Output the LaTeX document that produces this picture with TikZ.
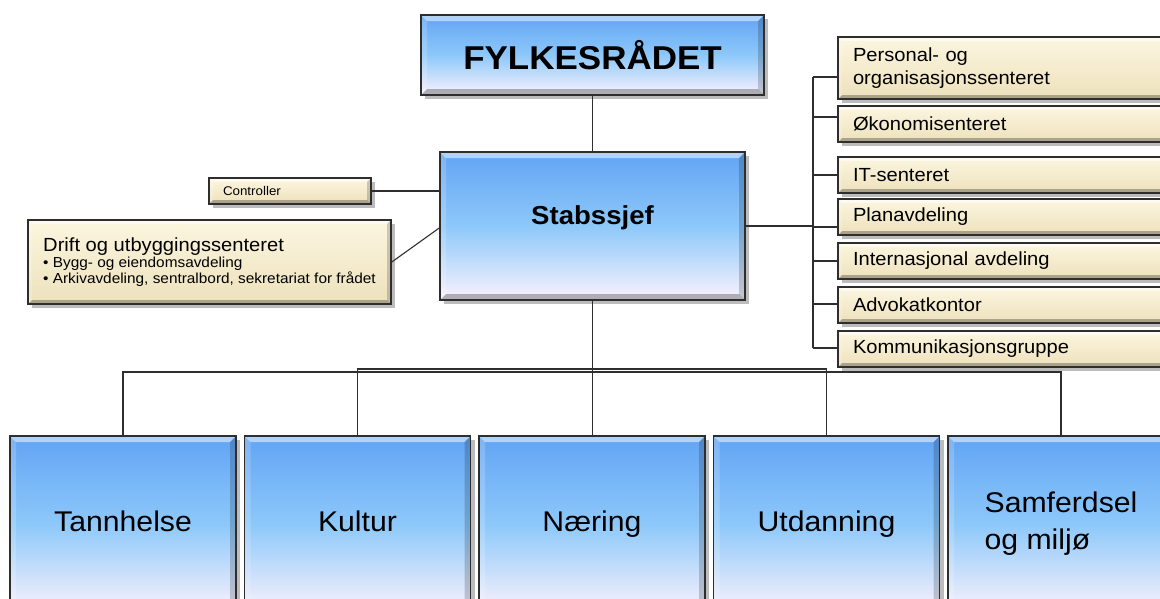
\documentclass[tikz,border=0pt]{standalone}
\usepackage{fontspec}
\setmainfont{Liberation Sans}[FakeStretch=1.06]
\usetikzlibrary{shadows,calc}
\definecolor{bluetop}{HTML}{62A4F4}
\definecolor{bluemid}{HTML}{8DC8FA}
\definecolor{bluebot}{HTML}{FAF2FC}
\definecolor{tantop}{HTML}{FCF6E0}
\definecolor{tanbot}{HTML}{EDE1BC}
\definecolor{edge}{HTML}{2E2E2E}
\tikzset{
  bevel/.style={path picture={
    \coordinate (bnw) at (path picture bounding box.north west);
    \coordinate (bse) at (path picture bounding box.south east);
    \fill[white,opacity=0.5] (bnw) -- (bnw -| bse) -- ([xshift=-#1,yshift=-#1]bnw -| bse) -- ([xshift=#1,yshift=-#1]bnw) -- cycle;
    \fill[black,opacity=0.28] (bnw |- bse) -- (bse) -- ([xshift=-#1,yshift=#1]bse) -- ([xshift=#1,yshift=#1]bnw |- bse) -- cycle;
    \fill[white,opacity=0.18] (bnw) -- (bnw |- bse) -- ([xshift=#1,yshift=#1]bnw |- bse) -- ([xshift=#1,yshift=-#1]bnw) -- cycle;
    \fill[black,opacity=0.18] (bnw -| bse) -- (bse) -- ([xshift=-#1,yshift=#1]bse) -- ([xshift=-#1,yshift=-#1]bnw -| bse) -- cycle;
  }},
  box/.style={draw=edge, line width=1.6pt, rectangle,
    drop shadow={shadow xshift=4pt, shadow yshift=-4pt, opacity=0.35, fill=black!75}},
  bluebox/.style={box, top color=bluetop, bottom color=bluebot, middle color=bluemid, bevel=6pt},
  tanbox/.style={box, top color=tantop, bottom color=tanbot, bevel=4pt},
  rbox/.style={tanbox, minimum width=327pt, minimum height=36pt, text width=297pt, inner xsep=15pt,
    align=left, font=\fontsize{19}{23}\selectfont},
  dept/.style={bluebox, minimum width=226pt, minimum height=176pt, font=\fontsize{28.5}{37}\selectfont},
  deptone/.style={dept, text height=20.4pt, text depth=6pt},
  conn/.style={draw=edge, line width=1.1pt},
}
\begin{document}
\begin{tikzpicture}[x=1pt,y=-1pt]
\useasboundingbox (0,0) rectangle (1160,598);

% top
\node[bluebox, minimum width=343pt, minimum height=80pt, font=\bfseries\fontsize{33}{36}\selectfont] (fyl) at (592.5,55) {FYLKESRÅDET};
\node[bluebox, minimum width=305pt, minimum height=148pt, text height=19pt, text depth=21.6pt,
  font=\bfseries\fontsize{26}{30}\selectfont] (stab) at (592.5,226) {Stabssjef};

% left staff
\node[tanbox, minimum width=162pt, minimum height=26pt, text width=134pt, inner xsep=14pt, inner ysep=0pt,
  align=left, font=\fontsize{12.6}{14}\selectfont] (ctrl) at (290,191) {Controller};
\node[tanbox, minimum width=363pt, minimum height=84pt, inner xsep=14pt,
  align=left, font=\fontsize{14.5}{16}\selectfont] (drift) at (209.5,262)
  {{\fontsize{19}{21}\selectfont Drift og utbyggingssenteret}\\• Bygg- og eiendomsavdeling\\• Arkivavdeling, sentralbord, sekretariat for frådet};

% right staff
\node[rbox, minimum height=62pt] (pers) at (1001.5,68) {Personal- og\\organisasjonssenteret};
\node[rbox] (oko) at (1001.5,124) {Økonomisenteret};
\node[rbox] (it) at (1001.5,175) {IT-senteret};
\node[rbox] (plan) at (1001.5,217) {Planavdeling};
\node[rbox] (int) at (1001.5,261) {Internasjonal avdeling};
\node[rbox] (adv) at (1001.5,305) {Advokatkontor};
\node[rbox] (kom) at (1001.5,349) {Kommunikasjonsgruppe};

% departments
\node[deptone] (tan) at (123,524) {Tannhelse};
\node[deptone] (kul) at (357.5,524) {Kultur};
\node[deptone] (nae) at (592,524) {Næring};
\node[deptone] (utd) at (826.5,524) {Utdanning};
\node[dept, align=left] (sam) at (1061,524) {Samferdsel\\og miljø};

% connectors
\draw[conn] (fyl.south) -- (stab.north);
\draw[conn] (ctrl.east) -- (ctrl.east -| stab.west);
\draw[conn] (drift.east) -- ($(stab.west)+(0,2)$);

\coordinate (bt) at (813,77);
\coordinate (bb) at (813,348);
\draw[conn] (stab.east) -- (stab.east -| bt);
\draw[conn] (bt) -- (bb);
\foreach \n/\yy in {pers/77, oko/117, it/175, plan/227, int/261, adv/304, kom/348}
  \draw[conn] (813,\yy) -- (\n.west |- 0,\yy);

\draw[conn] (stab.south) -- (stab.south |- 0,372) -| (tan.north);
\draw[conn] (stab.south |- 0,369) -| (kul.north);
\draw[conn] (stab.south) -- (stab.south |- nae.north);
\draw[conn] (stab.south |- 0,369) -| (utd.north);
\draw[conn] (stab.south |- 0,372) -| (sam.north);
\end{tikzpicture}
\end{document}
